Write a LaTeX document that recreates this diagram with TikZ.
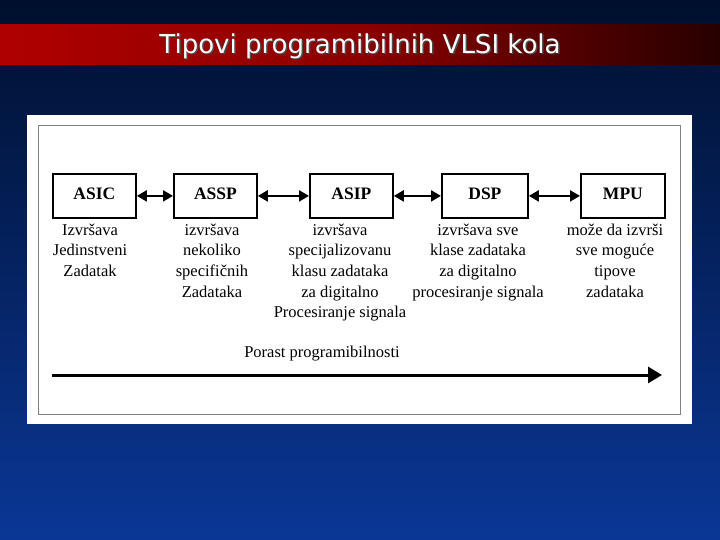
\documentclass[tikz,border=0pt]{standalone}
\usepackage{fontspec}
\setmainfont{Liberation Serif}
\newfontfamily\titlefont{DejaVu Sans}
\usetikzlibrary{arrows.meta,shadows}
\begin{document}
\begin{tikzpicture}[x=1pt,y=-1pt,
  blk/.style={draw,line width=1.8pt,minimum width=83pt,minimum height=44pt,font=\bfseries\fontsize{17.5}{17.5}\selectfont,anchor=north west,inner sep=0pt},
  desc/.style={font=\fontsize{16.5}{20.7}\selectfont,align=center,anchor=north},
  link/.style={line width=2pt,{Triangle[length=10pt,width=11pt]}-{Triangle[length=10pt,width=11pt]}}]
\useasboundingbox (0,0) rectangle (720,540);
\shade[top color={rgb,255:red,0;green,15;blue,45},bottom color={rgb,255:red,10;green,55;blue,150}] (0,0) rectangle (720,540);
\shade[left color={rgb,255:red,175;green,0;blue,0},right color={rgb,255:red,40;green,0;blue,0},middle color={rgb,255:red,140;green,0;blue,0}] (0,25) rectangle (720,65);
\node[text=black!70,font=\titlefont\fontsize{26}{26}\selectfont] at (361.5,47.5) {Tipovi programibilnih VLSI kola};
\node[text=white,font=\titlefont\fontsize{26}{26}\selectfont] (title) at (360,46) {Tipovi programibilnih VLSI kola};
\fill[white] (27,115) rectangle (692,424);
\draw[gray,line width=0.8pt] (38,125) rectangle (680,414);
\node[blk] (asic) at (52,173) {\raisebox{4pt}{ASIC}};
\node[blk] (assp) at (173,173) {\raisebox{4pt}{ASSP}};
\node[blk] (asip) at (309,173) {\raisebox{4pt}{ASIP}};
\node[blk,minimum width=86pt] (dsp) at (441,173) {\raisebox{4pt}{DSP}};
\node[blk,minimum width=84pt] (mpu) at (580,173) {\raisebox{4pt}{MPU}};
\draw[link] (asic.east) -- (assp.west);
\draw[link] (assp.east) -- (asip.west);
\draw[link] (asip.east) -- (dsp.west);
\draw[link] (dsp.east) -- (mpu.west);
\node[desc] (d1) at (90,220) {Izvršava\\Jedinstveni\\Zadatak};
\node[desc] (d2) at (212,220) {izvršava\\nekoliko\\specifičnih\\Zadataka};
\node[desc] (d3) at (340,220) {izvršava\\specijalizovanu\\klasu zadataka\\za digitalno\\Procesiranje signala};
\node[desc] (d4) at (478,220) {izvršava sve\\klase zadataka\\za digitalno\\procesiranje signala};
\node[desc] (d5) at (615,220) {može da izvrši\\sve moguće\\tipove\\zadataka};
\node[font=\fontsize{16.5}{17}\selectfont] (por) at (322,354) {Porast programibilnosti};
\coordinate (s) at (52,375);
\coordinate (e) at (662,375);
\draw[line width=3pt,-{Triangle[length=14pt,width=16pt]}] (s) -- (e);
\end{tikzpicture}
\end{document}
